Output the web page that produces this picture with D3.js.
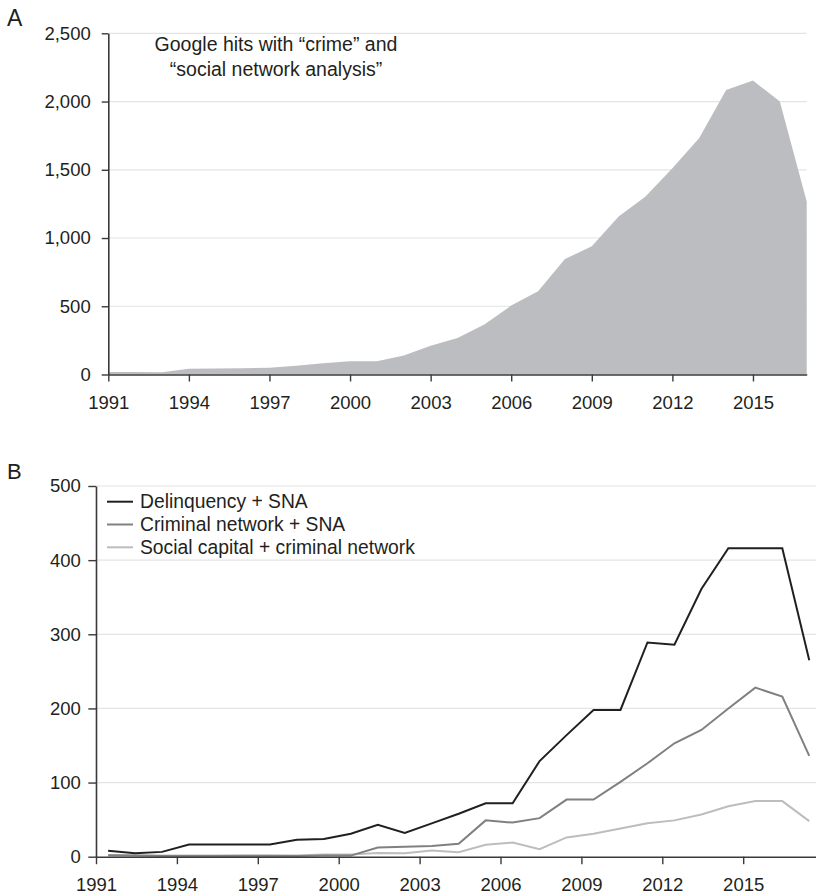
<!DOCTYPE html>
<html>
<head>
<meta charset="utf-8">
<script src="https://cdn.jsdelivr.net/npm/d3@7"></script>
<style>
  html, body { margin: 0; padding: 0; background: #fff; }
  svg { display: block; }
  text { font-family: "Liberation Sans", Arial, Helvetica, sans-serif; fill: #231f20; }
</style>
</head>
<body>
<svg id="chart" width="816" height="896"></svg>
<script>
// Panel A: Google hits per year
const yearsA = d3.range(1991, 2018);
const hitsA = [18, 18, 17, 42, 44, 46, 50, 65, 83, 98, 98, 140, 210, 268, 366, 505,
               610, 846, 939, 1158, 1305, 1512, 1732, 2085, 2154, 2000, 1268];
const ticksA_y = [0, 500, 1000, 1500, 2000, 2500];
const ticksX = [1991, 1994, 1997, 2000, 2003, 2006, 2009, 2012, 2015];
const noteA = ["Google hits with \u201ccrime\u201d and", "\u201csocial network analysis\u201d"];

// Panel B: hits per search combination
const yearsB = d3.range(1991, 2018);
const seriesNames = ["Delinquency + SNA", "Criminal network + SNA", "Social capital + criminal network"];
const delinquency = [8, 4.5, 6.5, 16.5, 16.5, 16.5, 16.5, 23, 24, 31, 43, 32, 45, 58, 72, 72,
                     129, 164, 198, 198, 289, 286, 361, 416, 416, 416, 265];
const criminalNet = [2, 1.5, 1, 1, 1, 1, 1, 1, 1.5, 1.5, 12.5, 13.5, 14.5, 17.5, 49, 46,
                     52, 77, 77, 101, 126, 153, 171, 200, 228, 216, 136];
const socialCap = [2, 1.5, 1.5, 1.5, 1.5, 2, 2, 1.5, 3, 3, 5, 4.5, 8.5, 6, 16, 19,
                   10, 26, 31, 38, 45, 49, 57, 68, 75, 75, 48];
const ticksB_y = [0, 100, 200, 300, 400, 500];
const seriesColors = ["#231f20", "#808080", "#bdbdbd"];

const svg = d3.select("#chart");
const fmt = d3.format(",");

// ---------- Panel A ----------
const xA = d3.scaleLinear().domain([1991, 2017]).range([108.3, 806.7]);
const yA = d3.scaleLinear().domain([0, 2500]).range([374.5, 33.3]);

const gA = svg.append("g");

gA.append("g").selectAll("line").data(ticksA_y.filter(d => d > 0)).join("line")
  .attr("x1", xA.range()[0]).attr("x2", xA.range()[1])
  .attr("y1", d => yA(d)).attr("y2", d => yA(d))
  .attr("stroke", "#e4e4e4").attr("stroke-width", 1.2);

gA.append("path")
  .datum(yearsA.map((y, i) => [y, hitsA[i]]))
  .attr("fill", "#bcbdc0")
  .attr("d", d3.area().x(d => xA(d[0])).y0(yA(0)).y1(d => yA(d[1])));

const axA_x = gA.append("g").attr("transform", `translate(0,${yA(0)})`)
  .call(d3.axisBottom(xA).tickValues(ticksX).tickFormat(d3.format("d"))
        .tickSize(7).tickPadding(14).tickSizeOuter(0));
const axA_y = gA.append("g").attr("transform", `translate(${xA.range()[0]},0)`)
  .call(d3.axisLeft(yA).tickValues(ticksA_y).tickFormat(fmt)
        .tickSize(6.6).tickPadding(11).tickSizeOuter(0));

gA.append("text").attr("x", 276).attr("y", 51).attr("text-anchor", "middle")
  .attr("font-size", 19.5)
  .selectAll("tspan").data(noteA).join("tspan")
  .attr("x", 276).attr("dy", (d, i) => i === 0 ? 0 : 25).text(d => d);

svg.append("text").attr("x", 7).attr("y", 26).attr("font-size", 23).text("A");

// ---------- Panel B ----------
const xB = d3.scaleLinear().domain([1991, 2017.7]).range([96, 816]);
const yB = d3.scaleLinear().domain([0, 500]).range([856.7, 486]);
const mid = 0.45; // points sit inside their year interval

const gB = svg.append("g");

gB.append("g").selectAll("line").data(ticksB_y.filter(d => d > 0)).join("line")
  .attr("x1", xB.range()[0]).attr("x2", xB.range()[1])
  .attr("y1", d => yB(d)).attr("y2", d => yB(d))
  .attr("stroke", "#e4e4e4").attr("stroke-width", 1.2);

const seriesB = [delinquency, criminalNet, socialCap];
const lineB = d3.line().x(d => xB(d[0] + mid)).y(d => yB(d[1]));

// draw lightest first so the darker lines sit on top
[2, 1, 0].forEach(k => {
  gB.append("path")
    .datum(yearsB.map((y, i) => [y, seriesB[k][i]]))
    .attr("fill", "none")
    .attr("stroke", seriesColors[k])
    .attr("stroke-width", 2)
    .attr("stroke-linejoin", "miter")
    .attr("d", lineB);
});

const axB_x = gB.append("g").attr("transform", `translate(0,${yB(0)})`)
  .call(d3.axisBottom(xB).tickValues(ticksX).tickFormat(d3.format("d"))
        .tickSize(7.5).tickPadding(13.5).tickSizeOuter(0));
const axB_y = gB.append("g").attr("transform", `translate(${xB.range()[0]},0)`)
  .call(d3.axisLeft(yB).tickValues(ticksB_y).tickFormat(fmt)
        .tickSize(7.7).tickPadding(7.5).tickSizeOuter(0));

// legend
const legend = gB.append("g");
seriesNames.forEach((name, i) => {
  const cy = 501.7 + i * 22.8;
  legend.append("line").attr("x1", 107).attr("x2", 133).attr("y1", cy).attr("y2", cy)
    .attr("stroke", seriesColors[i]).attr("stroke-width", 2);
  legend.append("text").attr("x", 140).attr("y", cy).attr("dy", "0.35em")
    .attr("font-size", 19.3).text(name);
});

svg.append("text").attr("x", 7).attr("y", 478.5).attr("font-size", 22).text("B");

// shared axis styling
[axA_x, axA_y, axB_x, axB_y].forEach(ax => {
  ax.select(".domain").attr("stroke", "#3a3a3a").attr("stroke-width", 1.6);
  ax.selectAll(".tick line").attr("stroke", "#3a3a3a").attr("stroke-width", 1.4);
  ax.selectAll(".tick text").attr("font-size", 18.5)
    .attr("font-family", "'Liberation Sans', Arial, Helvetica, sans-serif")
    .attr("fill", "#231f20");
});
</script>
</body>
</html>
